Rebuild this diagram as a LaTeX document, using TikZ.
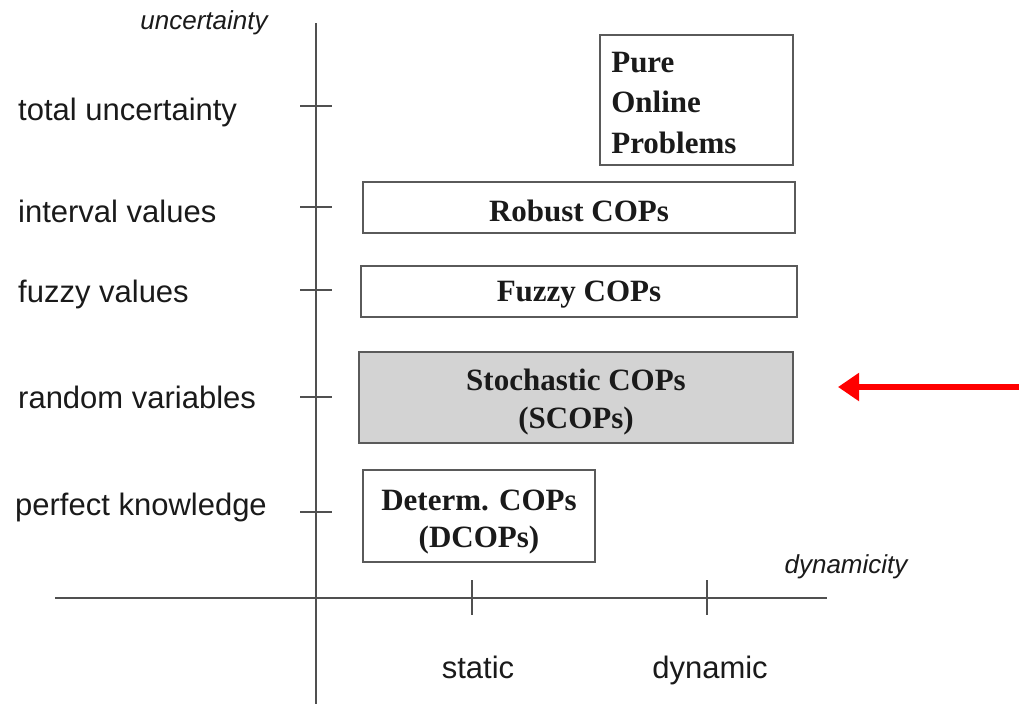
\documentclass[tikz,border=0pt]{standalone}
\usepackage{fontspec}
\setmainfont{Liberation Serif}
\setsansfont{Liberation Sans}
\usetikzlibrary{arrows.meta}
\definecolor{axisgray}{HTML}{505050}
\definecolor{boxgray}{HTML}{5A5A5A}
\definecolor{fillgray}{HTML}{D3D3D3}
\definecolor{txt}{HTML}{1A1A1A}
\definecolor{arrowred}{HTML}{FF0000}
\begin{document}
\begin{tikzpicture}[x=1pt,y=-1pt,
  axis/.style={draw=axisgray,line width=1.5pt},
  tick/.style={draw=axisgray,line width=1.5pt},
  lab/.style={font=\sffamily\fontsize{31}{36}\selectfont,text=txt,inner sep=0pt,anchor=base west},
  axlab/.style={font=\sffamily\itshape\fontsize{26}{30}\selectfont,text=txt,inner sep=0pt,anchor=base},
  xlab/.style={font=\sffamily\fontsize{31}{36}\selectfont,text=txt,inner sep=0pt,anchor=base},
  cop/.style={draw=boxgray,line width=1.8pt,inner sep=0pt},
  coptext/.style={font=\rmfamily\bfseries\fontsize{31}{38}\selectfont,text=txt,align=center,inner sep=0pt},
  redarrow/.style={draw=arrowred,line width=6pt,-{Triangle[length=21pt,width=27pt]}},
]
\useasboundingbox (0,0) rectangle (1019,704);

% axes
\coordinate (ytop) at (316,23);
\coordinate (ybot) at (316,704);
\coordinate (xleft) at (55,598);
\coordinate (xright) at (827,598);
\draw[axis] (ytop) -- (ybot);
\draw[axis] (xleft) -- (xright);

% y ticks
\foreach \n/\yy in {t1/106,t2/207,t3/290,t4/397,t5/512}{
  \coordinate (\n a) at (300,\yy);
  \coordinate (\n b) at (332,\yy);
  \draw[tick] (\n a) -- (\n b);
}
% x ticks
\coordinate (s1) at (472,580); \coordinate (s2) at (472,615);
\coordinate (d1) at (707,580); \coordinate (d2) at (707,615);
\draw[tick] (s1) -- (s2);
\draw[tick] (d1) -- (d2);

% axis labels
\node[axlab] (unc) at (204,29) {uncertainty};
\node[axlab] (dyn) at (846,573) {dynamicity};
\node[xlab] (static) at (478,678) {static};
\node[xlab] (dynamic) at (710,678) {dynamic};

% y labels
\node[lab] (l1) at (18,120) {total uncertainty};
\node[lab] (l2) at (18,222) {interval values};
\node[lab] (l3) at (18,302) {fuzzy values};
\node[lab] (l4) at (18,408) {random variables};
\node[lab] (l5) at (15,515) {perfect knowledge};

% boxes
\node[cop,minimum width=193pt,minimum height=130pt] (pure) at (696.5,100) {};
\node[cop,minimum width=432pt,minimum height=51pt] (robust) at (579,207.5) {};
\node[cop,minimum width=436pt,minimum height=51pt] (fuzzy) at (579,291.5) {};
\node[cop,fill=fillgray,minimum width=434pt,minimum height=91pt] (stoch) at (576,397.5) {};
\node[cop,minimum width=232pt,minimum height=92pt] (determ) at (479,516) {};

% box texts
\node[coptext,align=left,font=\rmfamily\bfseries\fontsize{31}{40}\selectfont,anchor=west] (puret) at ([xshift=12pt,yshift=-3pt]pure.west) {Pure\\Online\\Problems};
\node[coptext] (robustt) at ([yshift=-3pt]robust.center) {Robust COPs};
\node[coptext] (fuzzyt) at ([yshift=-3pt]fuzzy.center) {Fuzzy COPs};
\node[coptext] (stocht) at ([yshift=-5pt]stoch.center) {Stochastic COPs\\(SCOPs)};
\node[coptext,font=\rmfamily\bfseries\fontsize{31}{37}\selectfont] (determt) at ([yshift=-6pt]determ.center) {Determ. COPs\\(DCOPs)};

% red arrow
\coordinate (ra) at (1019,387);
\coordinate (rb) at (838,387);
\draw[redarrow] (ra) -- (rb);
\end{tikzpicture}
\end{document}
